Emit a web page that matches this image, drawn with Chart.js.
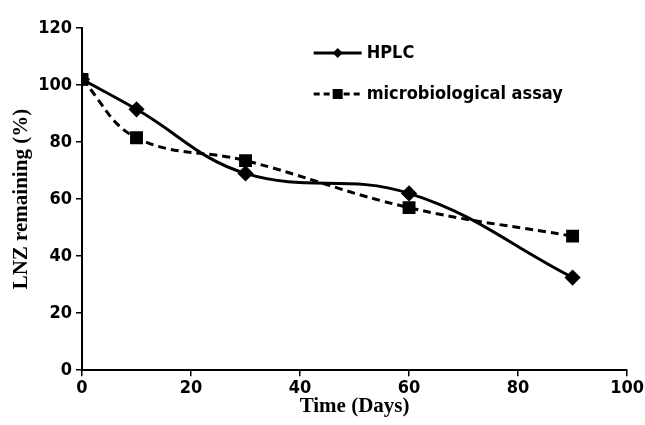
<!DOCTYPE html>
<html>
<head>
<meta charset="utf-8">
<script src="https://cdn.jsdelivr.net/npm/chart.js@4"></script>
<style>
  html, body { margin: 0; padding: 0; background: #fff; }
  #wrap { width: 645px; height: 425px; }
</style>
</head>
<body>
<div id="wrap"><canvas id="chart"></canvas></div>
<script>
const days = [0, 10, 30, 60, 90];
const hplc = [102, 91.5, 69, 62, 32.5];
const micro = [102, 81.5, 73.5, 57, 47];
const seriesNames = ['HPLC', 'microbiological assay'];

const tickFont = { family: '"DejaVu Sans Condensed", "Liberation Sans Narrow", Arial', size: 18, weight: 'bold' };
const titleFont = { family: '"Liberation Serif", "Times New Roman", serif', size: 21, weight: 'bold' };

const toPoints = (xs, ys) => xs.map((x, i) => ({ x: x, y: ys[i] }));

// legend drawn inside the plot area, lines + markers like the original
const innerLegend = {
    id: 'innerLegend',
    afterDraw(chart) {
        const ctx = chart.ctx;
        const x0 = chart.scales.x.getPixelForValue(42.5);
        const rows = [chart.chartArea.top + 25, chart.chartArea.top + 66];
        chart.data.datasets.forEach((ds, i) => {
            const y = rows[i];
            ctx.save();
            ctx.strokeStyle = '#000';
            ctx.lineWidth = 3;
            ctx.setLineDash(ds.borderDash ? [6, 4] : []);
            ctx.beginPath();
            ctx.moveTo(x0, y);
            ctx.lineTo(x0 + 48, y);
            ctx.stroke();
            ctx.setLineDash([]);
            ctx.fillStyle = '#000';
            const cx = x0 + 24;
            ctx.beginPath();
            if (ds.pointStyle === 'rectRot') {
                ctx.moveTo(cx, y - 5); ctx.lineTo(cx + 5, y); ctx.lineTo(cx, y + 5); ctx.lineTo(cx - 5, y);
            } else {
                ctx.rect(cx - 5, y - 5, 10, 10);
            }
            ctx.closePath();
            ctx.fill();
            ctx.font = 'bold 18px "DejaVu Sans Condensed", "Liberation Sans Narrow", Arial';
            ctx.textBaseline = 'middle';
            ctx.fillText(ds.label, x0 + 53, y);
            ctx.restore();
        });
    }
};

new Chart(document.getElementById('chart'), {
    type: 'line',
    data: {
        datasets: [
            {
                label: seriesNames[0],
                data: toPoints(days, hplc),
                borderColor: '#000',
                backgroundColor: '#000',
                borderWidth: 3,
                pointStyle: 'rectRot',
                pointRadius: 6,
                tension: 0.4,
                fill: false
            },
            {
                label: seriesNames[1],
                data: toPoints(days, micro),
                borderColor: '#000',
                backgroundColor: '#000',
                borderWidth: 3,
                borderDash: [8, 5],
                pointStyle: 'rect',
                pointRadius: 7,
                tension: 0.4,
                fill: false
            }
        ]
    },
    options: {
        responsive: true,
        maintainAspectRatio: false,
        animation: false,
        layout: { padding: { top: 28, right: 6, left: 3, bottom: 0 } },
        plugins: {
            legend: { display: false },
            tooltip: { enabled: false }
        },
        scales: {
            x: {
                type: 'linear',
                min: 0,
                max: 100,
                ticks: { stepSize: 20, color: '#000', font: tickFont, padding: 1 },
                grid: { drawOnChartArea: false, drawTicks: true, tickLength: 6, color: '#000', lineWidth: 1.5 },
                border: { color: '#000', width: 2 },
                title: { display: true, text: 'Time (Days)', color: '#000', font: titleFont, padding: { top: -6, bottom: 6 } }
            },
            y: {
                min: 0,
                max: 120,
                ticks: { stepSize: 20, color: '#000', font: tickFont, padding: 4 },
                grid: { drawOnChartArea: false, drawTicks: true, tickLength: 6, color: '#000', lineWidth: 1.5 },
                border: { color: '#000', width: 2 },
                title: { display: true, text: 'LNZ remaining (%)', color: '#000', font: titleFont, padding: { top: 6, bottom: 0 } }
            }
        }
    },
    plugins: [innerLegend]
});
</script>
</body>
</html>
